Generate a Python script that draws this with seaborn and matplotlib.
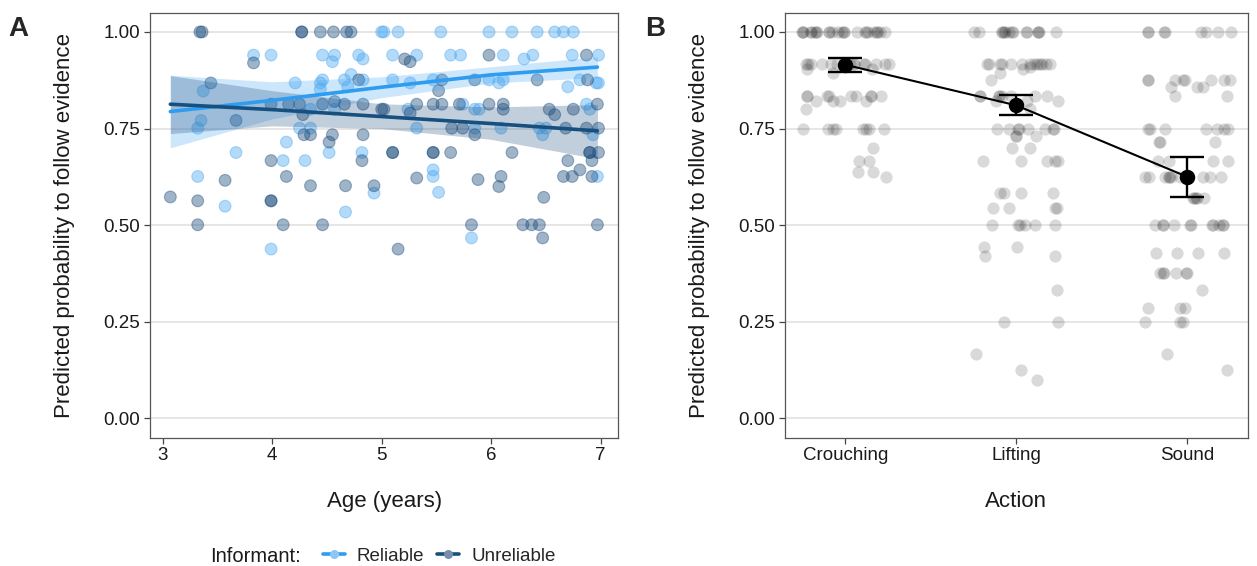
import numpy as np
import pandas as pd
import matplotlib
matplotlib.use("Agg")
import matplotlib.pyplot as plt
from matplotlib.lines import Line2D
import seaborn as sns

# ---- Panel A data: age vs predicted probability, per informant ----
rel_age = [3.32, 3.35, 3.37, 3.32, 3.57, 3.67, 3.83, 3.99, 3.99, 4.10,
           4.13, 4.21, 4.25, 4.30, 4.35, 4.35, 4.44, 4.46, 4.44, 4.46,
           4.55, 4.57, 4.57, 4.52, 4.66, 4.69, 4.72, 4.67, 4.79, 4.83,
           4.82, 4.83, 4.93, 5.00, 5.02, 5.15, 5.10, 5.10, 5.32, 5.26,
           5.24, 5.32, 5.47, 5.47, 5.47, 5.52, 5.54, 5.63, 5.72, 5.74,
           5.85, 5.89, 5.85, 5.82, 5.98, 5.98, 6.07, 6.11, 6.11, 6.09,
           6.19, 6.30, 6.38, 6.42, 6.44, 6.47, 6.50, 6.58, 6.66, 6.75,
           6.74, 6.70, 6.81, 6.87, 6.90, 6.93, 6.96, 6.98, 6.98, 6.97]
rel_prob = [0.751, 0.771, 0.847, 0.626, 0.549, 0.688, 0.940, 0.940, 0.438, 0.667,
            0.715, 0.868, 0.751, 0.667, 0.751, 0.800, 0.868, 0.876, 0.852, 0.940,
            0.923, 0.940, 0.800, 0.688, 0.876, 0.858, 0.890, 0.534, 0.940, 0.930,
            0.688, 0.876, 0.583, 1.000, 1.000, 1.000, 0.940, 0.876, 0.940, 0.868,
            0.800, 0.751, 0.876, 0.643, 0.626, 0.585, 1.000, 0.940, 0.940, 0.813,
            0.800, 0.800, 0.751, 0.467, 1.000, 0.876, 0.868, 0.876, 0.940, 0.751,
            1.000, 0.930, 0.940, 1.000, 0.751, 0.734, 0.751, 1.000, 1.000, 1.000,
            0.940, 0.858, 0.876, 0.813, 0.800, 0.734, 0.868, 0.868, 0.940, 0.626]

unr_age = [3.07, 3.32, 3.32, 3.34, 3.36, 3.44, 3.57, 3.67, 3.83, 3.99,
           3.99, 3.99, 3.99, 4.10, 4.13, 4.15, 4.25, 4.27, 4.27, 4.28,
           4.29, 4.35, 4.35, 4.44, 4.46, 4.46, 4.52, 4.55, 4.56, 4.57,
           4.66, 4.67, 4.68, 4.72, 4.79, 4.83, 4.83, 4.82, 4.93, 5.00,
           5.02, 5.10, 5.10, 5.15, 5.21, 5.26, 5.26, 5.32, 5.32, 5.47,
           5.47, 5.47, 5.55, 5.52, 5.55, 5.63, 5.64, 5.71, 5.74, 5.82,
           5.85, 5.85, 5.88, 5.98, 5.98, 6.07, 6.09, 6.11, 6.11, 6.19,
           6.29, 6.37, 6.44, 6.42, 6.47, 6.48, 6.53, 6.58, 6.66, 6.68,
           6.70, 6.74, 6.75, 6.81, 6.87, 6.87, 6.88, 6.90, 6.90, 6.92,
           6.92, 6.97, 6.97, 6.98, 6.98]
unr_prob = [0.573, 0.563, 0.501, 1.000, 1.000, 0.868, 0.616, 0.771, 0.920, 0.813,
            0.563, 0.563, 0.667, 0.501, 0.626, 0.813, 0.813, 1.000, 1.000, 0.786,
            0.734, 0.734, 0.602, 1.000, 0.813, 0.501, 0.715, 0.734, 1.000, 0.820,
            0.813, 0.602, 1.000, 1.000, 0.876, 0.813, 0.734, 0.667, 0.602, 0.800,
            0.800, 0.688, 0.688, 0.438, 0.930, 0.923, 0.790, 0.813, 0.622, 0.813,
            0.688, 0.688, 0.876, 0.848, 0.813, 0.688, 0.751, 0.813, 0.751, 0.501,
            0.876, 0.734, 0.618, 0.940, 0.813, 0.600, 0.626, 0.813, 0.800, 0.688,
            0.501, 0.501, 0.501, 0.876, 0.467, 0.572, 0.800, 0.786, 0.626, 0.751,
            0.667, 0.626, 0.800, 0.643, 0.940, 0.751, 0.876, 0.688, 0.688, 0.667,
            0.626, 0.813, 0.501, 0.688, 0.751]

# fitted trend and 95% band
fit_age = [3.07, 4.0, 5.0, 6.0, 6.97]
rel_fit = [0.794, 0.823, 0.857, 0.889, 0.909]
rel_lo = [0.700, 0.775, 0.830, 0.868, 0.882]
rel_hi = [0.888, 0.871, 0.884, 0.910, 0.936]
unr_fit = [0.813, 0.799, 0.781, 0.763, 0.744]
unr_lo = [0.737, 0.757, 0.750, 0.722, 0.672]
unr_hi = [0.887, 0.848, 0.814, 0.806, 0.812]

# ---- Panel B data: observed values (value, count) per action ----
actions = ["Crouching", "Lifting", "Sound"]
crouch_vals = [1.000, 0.917, 0.905, 0.893, 0.833, 0.820, 0.800, 0.750, 0.700, 0.667, 0.637, 0.625]
crouch_counts = [24, 15, 2, 1, 9, 4, 1, 8, 1, 2, 2, 1]
lift_vals = [1.000, 0.917, 0.910, 0.903, 0.893, 0.875, 0.833, 0.820, 0.800, 0.750, 0.730, 0.700,
             0.667, 0.583, 0.545, 0.500, 0.444, 0.420, 0.333, 0.250, 0.167, 0.125, 0.100]
lift_counts = [15, 13, 1, 1, 1, 1, 8, 3, 1, 8, 3, 2, 5, 4, 4, 6, 2, 2, 1, 2, 1, 1, 1]
sound_vals = [1.000, 0.875, 0.857, 0.833, 0.750, 0.714, 0.667, 0.625, 0.571, 0.500, 0.429,
              0.375, 0.333, 0.286, 0.250, 0.167, 0.125]
sound_counts = [8, 8, 3, 2, 7, 3, 4, 10, 5, 11, 4, 6, 1, 3, 3, 1, 1]

# model estimates with 95% CI
action_mean = [0.915, 0.810, 0.625]
action_lo = [0.897, 0.786, 0.574]
action_hi = [0.933, 0.837, 0.677]

y_ticks = [0.0, 0.25, 0.5, 0.75, 1.0]
y_tick_labels = ["0.00", "0.25", "0.50", "0.75", "1.00"]
age_ticks = [3, 4, 5, 6, 7]

rel_line = "#2e9cf0"
rel_point = "#4aa8f2"
unr_line = "#17507f"
unr_point = "#1d4e7e"

sns.set_style("white")
plt.rcParams['font.family'] = ['Liberation Sans', 'DejaVu Sans']

fig = plt.figure(figsize=(12.57, 5.66), dpi=100)
axA = fig.add_axes([0.1193, 0.2267, 0.3726, 0.751])
axB = fig.add_axes([0.6245, 0.2267, 0.3681, 0.751])


def style_axes(ax):
    ax.set_ylim(-0.05, 1.05)
    ax.set_yticks(y_ticks)
    ax.set_yticklabels(y_tick_labels)
    ax.grid(axis='y', color='#e2e2e2', lw=1.2)
    ax.grid(axis='x', visible=False)
    ax.set_axisbelow(True)
    for s in ax.spines.values():
        s.set_visible(True)
        s.set_color('#555555')
        s.set_linewidth(0.9)
    ax.tick_params(length=4, width=0.9, color='#444444', labelsize=13.5,
                   labelcolor='#1a1a1a', pad=3, left=True, bottom=True)


# ---- Panel A ----
relA = pd.DataFrame({'age': rel_age, 'prob': rel_prob, 'Informant': 'Reliable'})
unrA = pd.DataFrame({'age': unr_age, 'prob': unr_prob, 'Informant': 'Unreliable'})
dfA = pd.concat([relA, unrA], ignore_index=True)

sns.scatterplot(data=dfA, x='age', y='prob', hue='Informant',
                palette={'Reliable': rel_point, 'Unreliable': unr_point},
                alpha=0.42, s=72, linewidth=0.8, edgecolor='face',
                legend=False, ax=axA, zorder=2)

axA.fill_between(fit_age, rel_lo, rel_hi, color=rel_point, alpha=0.28, lw=0, zorder=3)
axA.fill_between(fit_age, unr_lo, unr_hi, color=unr_point, alpha=0.27, lw=0, zorder=3)
sns.lineplot(x=fit_age, y=rel_fit, color=rel_line, lw=2.6, ax=axA, zorder=4)
sns.lineplot(x=fit_age, y=unr_fit, color=unr_line, lw=2.6, ax=axA, zorder=4)

style_axes(axA)
axA.set_xlim(2.884, 7.161)
axA.set_xticks(age_ticks)
axA.set_xticklabels([str(t) for t in age_ticks])
axA.set_xlabel("Age (years)", fontsize=16, color='#1a1a1a')
axA.set_ylabel("Predicted probability to follow evidence", fontsize=16, color='#1a1a1a')
axA.xaxis.set_label_coords(0.5, -0.125)
axA.yaxis.set_label_coords(-0.16, 0.5)

# ---- Panel B ----
dfB = pd.DataFrame({
    'action': (["Crouching"] * sum(crouch_counts) + ["Lifting"] * sum(lift_counts)
               + ["Sound"] * sum(sound_counts)),
    'prob': np.concatenate([np.repeat(crouch_vals, crouch_counts),
                            np.repeat(lift_vals, lift_counts),
                            np.repeat(sound_vals, sound_counts)]),
})
np.random.seed(11)
sns.stripplot(data=dfB, x='action', y='prob', order=actions, color='black',
              alpha=0.15, jitter=0.26, size=8.8, linewidth=0, ax=axB, zorder=2)

axB.errorbar(range(len(actions)), action_mean,
             yerr=[np.subtract(action_mean, action_lo), np.subtract(action_hi, action_mean)],
             fmt='none', ecolor='black', elinewidth=1.7, capsize=12, capthick=1.7, zorder=5)
sns.pointplot(x=actions, y=action_mean, order=actions, color='black', errorbar=None,
              markersize=10, linewidth=1.5, ax=axB)
for ln in axB.lines:
    ln.set_zorder(6)

style_axes(axB)
axB.set_xlim(-0.353, 2.353)
axB.set_xlabel("Action", fontsize=16, color='#1a1a1a')
axB.set_ylabel("Predicted probability to follow evidence", fontsize=16, color='#1a1a1a')
axB.xaxis.set_label_coords(0.5, -0.125)
axB.yaxis.set_label_coords(-0.162, 0.5)

# ---- panel letters ----
fig.text(8 / 1257, 1 - 36 / 566, "A", fontsize=20, fontweight='bold', va='baseline')
fig.text(645 / 1257, 1 - 36 / 566, "B", fontsize=20, fontweight='bold', va='baseline')

# ---- legend ----
fig.text(210 / 1257, 1 - 556 / 566, "Informant:", fontsize=14.5, va='center', ha='left',
         color='#1a1a1a')
handles = [
    Line2D([0], [0], color=rel_line, lw=2.6, marker='o', markersize=6.5,
           markerfacecolor=(0.55, 0.78, 0.97, 1.0), markeredgewidth=0),
    Line2D([0], [0], color=unr_line, lw=2.6, marker='o', markersize=6.5,
           markerfacecolor=(0.45, 0.56, 0.68, 1.0), markeredgewidth=0),
]
fig.legend(handles, ["Reliable", "Unreliable"], ncol=2, loc='center left',
           bbox_to_anchor=(323 / 1257, 1 - 556 / 566), frameon=False,
           fontsize=13.5, handlelength=1.15, handletextpad=0.65, columnspacing=0.7,
           borderpad=0, borderaxespad=0)

fig.savefig("out.png", dpi=100)
